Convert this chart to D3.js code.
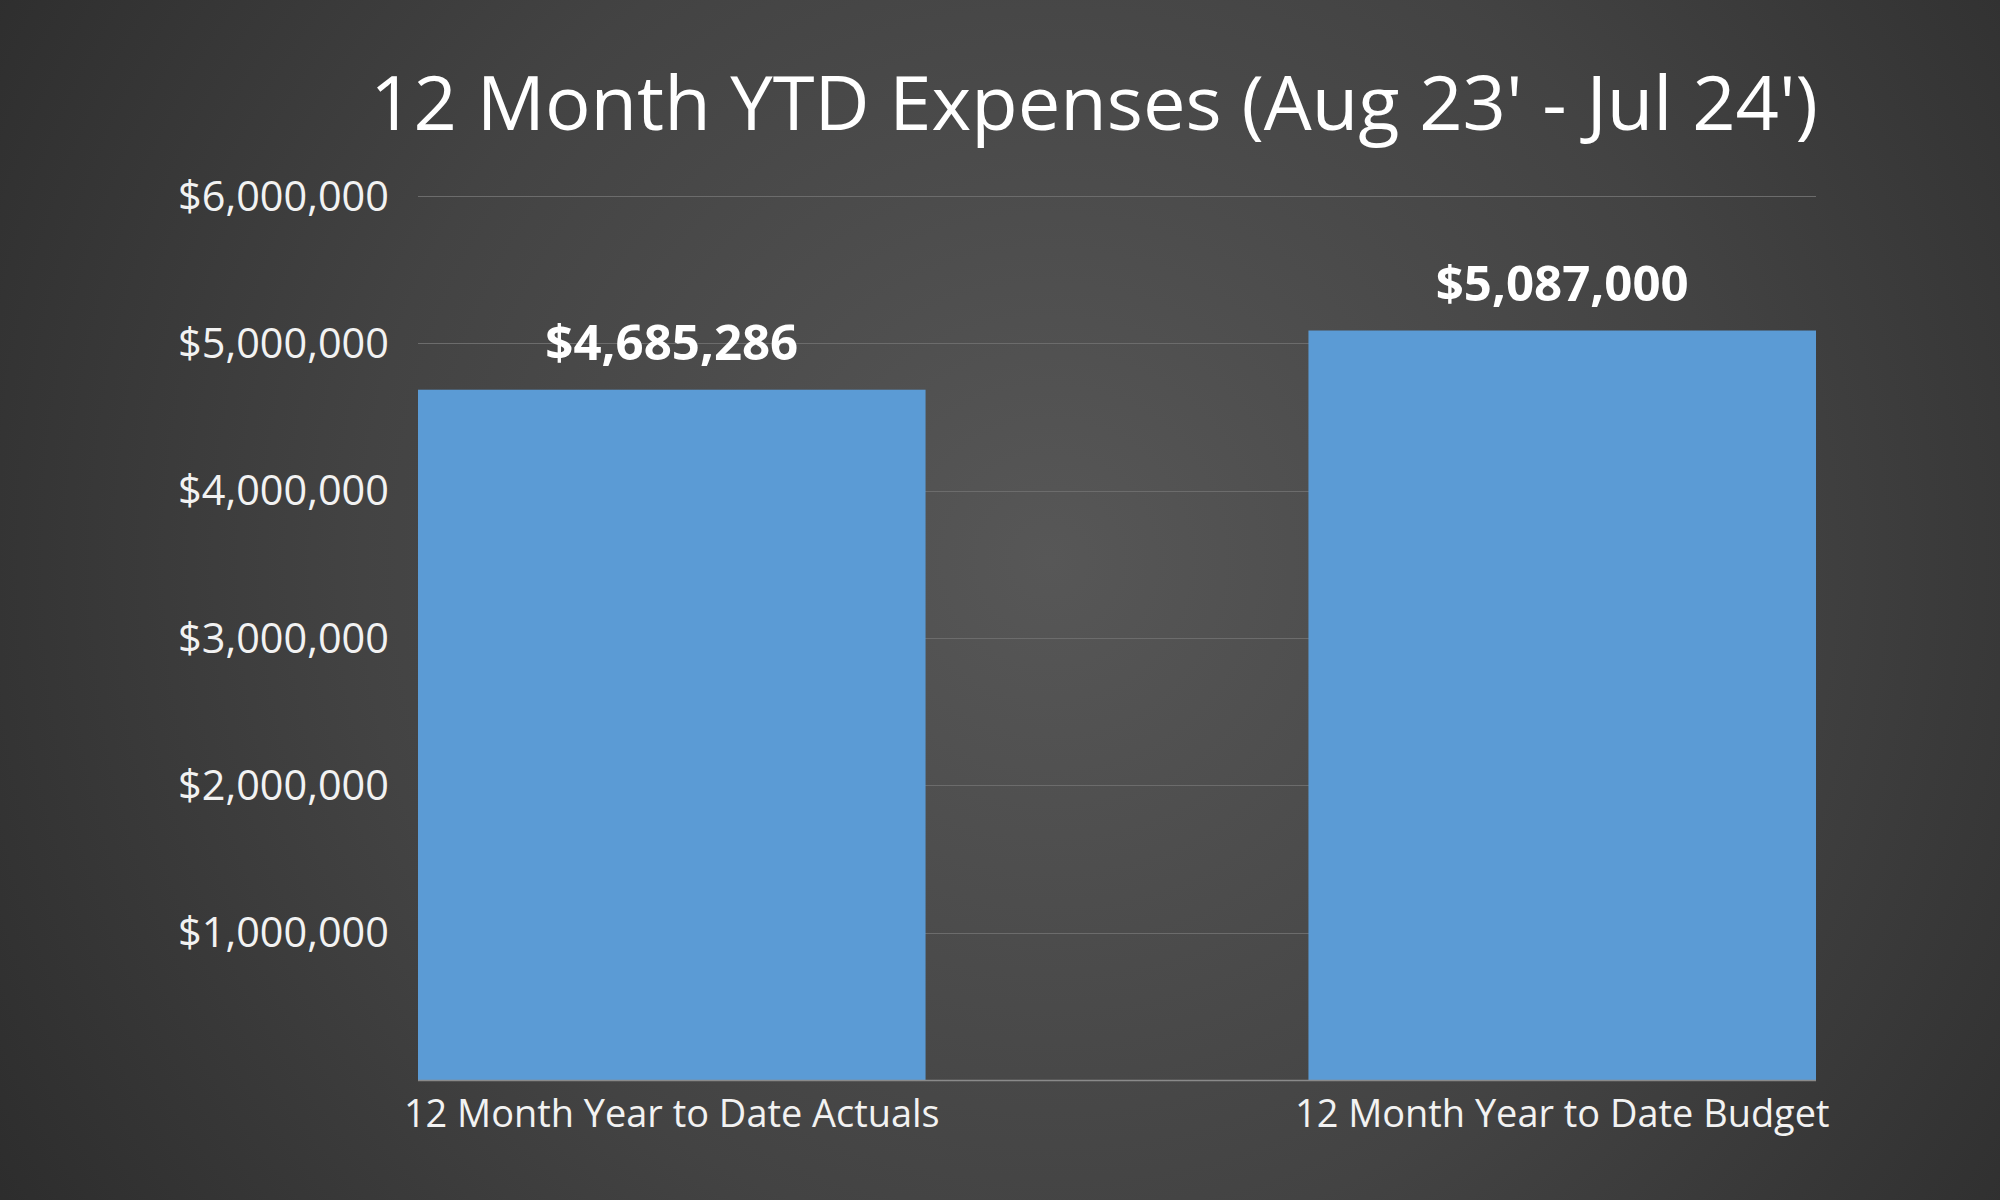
<!DOCTYPE html>
<html><head><meta charset="utf-8">
<script src="https://cdn.jsdelivr.net/npm/d3@7"></script>
<style>html,body{margin:0;padding:0;background:#3a3a3a;}svg{display:block;}</style>
</head><body>
<script>
const categories = ["12 Month Year to Date Actuals", "12 Month Year to Date Budget"];
const values = [4685286, 5087000];
const valueLabels = ["$4,685,286", "$5,087,000"];
const tickValues = [1000000, 2000000, 3000000, 4000000, 5000000, 6000000];
const tickLabels = ["$1,000,000", "$2,000,000", "$3,000,000", "$4,000,000", "$5,000,000", "$6,000,000"];
const title = "12 Month YTD Expenses (Aug 23' - Jul 24')";

const W = 2000, H = 1200;
const m = {left: 418, right: 184, top: 196, bottom: 120};

const svg = d3.select("body").append("svg").attr("width", W).attr("height", H);
const defs = svg.append("defs");
const grad = defs.append("radialGradient").attr("id", "bg")
  .attr("gradientUnits", "userSpaceOnUse").attr("cx", 1050).attr("cy", 560).attr("r", 1250);
grad.append("stop").attr("offset", "0").attr("stop-color", "#575757");
grad.append("stop").attr("offset", "0.55").attr("stop-color", "#434343");
grad.append("stop").attr("offset", "1").attr("stop-color", "#2c2c2c");
svg.append("rect").attr("width", W).attr("height", H).attr("fill", "url(#bg)");

const x = d3.scaleBand().domain(categories).range([m.left, W - m.right]).paddingInner(0.43).paddingOuter(0);
const y = d3.scaleLinear().domain([0, 6000000]).range([H - m.bottom, m.top]);

function fit(sel, target) {
  const node = sel.node();
  const fs = parseFloat(sel.attr("font-size"));
  const w = node.getComputedTextLength();
  sel.attr("font-size", fs * target / w);
}

// gridlines
svg.append("g").selectAll("line").data(tickValues).join("line")
  .attr("x1", m.left).attr("x2", W - m.right)
  .attr("y1", d => Math.round(y(d)) + 0.5).attr("y2", d => Math.round(y(d)) + 0.5)
  .attr("stroke", "#6c6c6c").attr("stroke-width", 1.2);

// y axis labels
const yAxis = svg.append("g").attr("transform", `translate(${m.left},0)`)
  .call(d3.axisLeft(y).tickValues(tickValues).tickFormat((d, i) => tickLabels[i]).tickSize(0).tickPadding(29));
yAxis.select(".domain").remove();
yAxis.selectAll("text").attr("fill", "#f2f2f2").attr("font-family", "'Open Sans', sans-serif")
  .attr("font-size", 37).attr("dy", "0.34em");
fit(yAxis.select("text"), 211);
const yfs = yAxis.select("text").attr("font-size");
yAxis.selectAll("text").attr("font-size", yfs);

// bars
svg.append("g").selectAll("rect").data(values).join("rect")
  .attr("x", (d, i) => x(categories[i])).attr("width", x.bandwidth())
  .attr("y", d => y(d)).attr("height", d => y(0) - y(d))
  .attr("fill", "#5B9BD5");

// baseline
svg.append("line").attr("x1", m.left).attr("x2", W - m.right)
  .attr("y1", y(0) + 0.5).attr("y2", y(0) + 0.5).attr("stroke", "#8a8a8a").attr("stroke-width", 1.5);

// value labels
const vl = svg.append("g").selectAll("text").data(values).join("text")
  .attr("x", (d, i) => x(categories[i]) + x.bandwidth() / 2)
  .attr("y", d => y(d) - 30)
  .attr("text-anchor", "middle").attr("fill", "#ffffff")
  .attr("font-family", "'Open Sans', sans-serif").attr("font-weight", 700).attr("font-size", 44)
  .text((d, i) => valueLabels[i]);
fit(d3.select(vl.nodes()[1]), 253);
vl.attr("font-size", d3.select(vl.nodes()[1]).attr("font-size"));

// x axis labels
const xAxis = svg.append("g").attr("transform", `translate(0,${y(0)})`)
  .call(d3.axisBottom(x).tickSize(0).tickPadding(20));
xAxis.select(".domain").remove();
xAxis.selectAll("text").attr("fill", "#f2f2f2").attr("font-family", "'Open Sans', sans-serif")
  .attr("font-size", 38).attr("dy", "0.72em");
fit(xAxis.select("text"), 536);
xAxis.selectAll("text").attr("font-size", xAxis.select("text").attr("font-size"));

// title
const t = svg.append("text").attr("x", 1818).attr("y", 130).attr("text-anchor", "end")
  .attr("fill", "#ffffff").attr("font-family", "'Open Sans', sans-serif").attr("font-size", 78)
  .text(title);
fit(t, 1448);
</script>
</body></html>
